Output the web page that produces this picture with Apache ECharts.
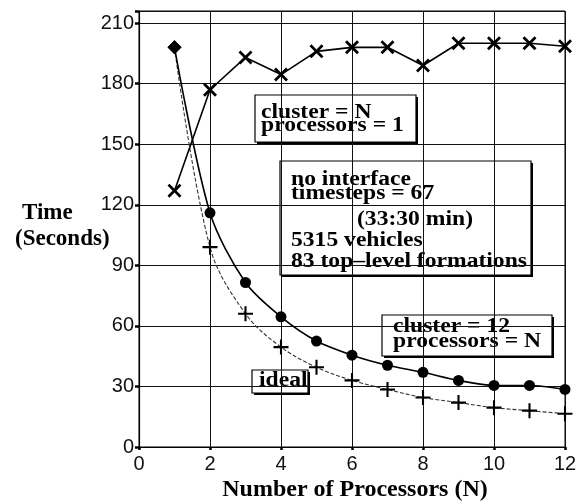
<!DOCTYPE html>
<html>
<head>
<meta charset="utf-8">
<script src="https://cdn.jsdelivr.net/npm/echarts@6/dist/echarts.min.js"></script>
<style>
html,body{margin:0;padding:0;background:#fff;}
#c{width:588px;height:504px;}
</style>
</head>
<body>
<div id="c"></div>
<script>
// Data
var processors = [1, 2, 3, 4, 5, 6, 7, 8, 9, 10, 11, 12];
var clusterN = [127, 177, 193, 184.5, 196, 198, 198, 189, 200, 200, 200, 198.5];     // cluster = N, processors = 1
var cluster12 = [198, 116, 81.5, 64.5, 52.5, 45.5, 40.5, 37, 33, 30.5, 30.5, 28.5];   // cluster = 12, processors = N
var ideal = [198, 99, 66, 49.5, 39.5, 33, 28.5, 24.5, 22, 19.5, 18, 16.5];            // ideal
var xTicks = [0, 2, 4, 6, 8, 10, 12];
var yTicks = [0, 30, 60, 90, 120, 150, 180, 210];

var serif = '"Liberation Serif", "Times New Roman", serif';
var sans = '"Liberation Sans", Arial, sans-serif';
var FS = 20;
var SX = 1.18;

function pairs(vals) {
  return processors.map(function (p, i) { return [p, vals[i]]; });
}
function withFirstDiamond(vals) {
  return processors.map(function (p, i) {
    if (i === 0) return { value: [p, vals[i]], symbol: 'diamond', symbolSize: 14 };
    return [p, vals[i]];
  });
}

var crossPath = 'path://M0,1.4L1.4,0L5,3.6L8.6,0L10,1.4L6.4,5L10,8.6L8.6,10L5,6.4L1.4,10L0,8.6L3.6,5Z';
var plusPath = 'path://M4.3,0H5.7V4.3H10V5.7H5.7V10H4.3V5.7H0V4.3H4.3Z';

function box(x, y, w, h, lines) {
  var children = [
    { type: 'rect', shape: { x: x + 2, y: y + 2, width: w, height: h }, style: { fill: '#000' } },
    { type: 'rect', shape: { x: x, y: y, width: w, height: h }, style: { fill: '#fff', stroke: '#000', lineWidth: 1.2 } }
  ];
  lines.forEach(function (l) {
    children.push({
      type: 'text',
      x: l[1], y: l[2] - 0.3375 * FS, scaleX: SX, scaleY: 1,
      style: { text: l[0], font: 'bold ' + FS + 'px ' + serif, fill: '#000', verticalAlign: 'middle', align: 'left' }
    });
  });
  return { type: 'group', z: 100, children: children };
}

var chart = echarts.init(document.getElementById('c'), null, { renderer: 'canvas' });
chart.setOption({
  backgroundColor: '#fff',
  animation: false,
  grid: { left: 139, right: 23, top: 11, bottom: 57, show: true, borderColor: '#000', borderWidth: 1,
          containLabel: false, outerBoundsMode: 'none' },
  xAxis: {
    type: 'value', min: 0, max: 12, interval: 2,
    name: 'Number of Processors (N)', nameLocation: 'middle', nameGap: 43, nameMoveOverlap: false,
    nameTextStyle: { fontFamily: serif, fontWeight: 'bold', fontSize: 24, color: '#000', verticalAlign: 'middle', padding: [0, 0, 0, 6] },
    axisLine: { show: true, lineStyle: { color: '#000', width: 1.2 } },
    axisTick: { show: true, inside: false, length: 3, lineStyle: { color: '#000', width: 2.5 } },
    axisLabel: { fontFamily: sans, fontSize: 20, color: '#111', margin: 7,
      formatter: function (v) { return xTicks.indexOf(v) >= 0 ? String(v) : ''; } },
    splitLine: { show: true, lineStyle: { color: '#111', width: 1 } }
  },
  yAxis: {
    type: 'value', min: 0, max: 216, interval: 30,
    name: '{t|Time}\n{s|(Seconds)}', nameLocation: 'middle', nameRotate: 0, nameGap: 124, nameMoveOverlap: false,
    nameTextStyle: {
      align: 'left', verticalAlign: 'middle', padding: [0, 0, 6, 0],
      rich: {
        t: { fontFamily: serif, fontWeight: 'bold', fontSize: 23, color: '#000', lineHeight: 26, padding: [0, 0, 0, 7] },
        s: { fontFamily: serif, fontWeight: 'bold', fontSize: 23, color: '#000', lineHeight: 26 }
      }
    },
    axisLine: { show: true, lineStyle: { color: '#000', width: 1.2 } },
    axisTick: { show: true, length: 4, lineStyle: { color: '#000', width: 2.5 } },
    axisLabel: { fontFamily: sans, fontSize: 20, color: '#111', margin: 5,
      formatter: function (v) { return yTicks.indexOf(v) >= 0 ? String(v) : ''; } },
    splitLine: { show: true, lineStyle: { color: '#111', width: 1 } }
  },
  series: [
    {
      name: 'cluster = N, processors = 1', type: 'line', data: pairs(clusterN),
      symbol: crossPath, symbolSize: 14, showAllSymbol: true,
      lineStyle: { color: '#000', width: 1.6 },
      itemStyle: { color: '#000', borderWidth: 0 }, z: 5
    },
    {
      name: 'ideal', type: 'line', data: withFirstDiamond(ideal), smooth: 0.35,
      symbol: plusPath, symbolSize: 15, showAllSymbol: true,
      lineStyle: { color: '#333', width: 1.1, type: [4, 2] },
      itemStyle: { color: '#000', borderWidth: 0 }, z: 4
    },
    {
      name: 'cluster = 12, processors = N', type: 'line', data: withFirstDiamond(cluster12), smooth: 0.3,
      symbol: 'circle', symbolSize: 11, showAllSymbol: true,
      lineStyle: { color: '#000', width: 1.6 },
      itemStyle: { color: '#000', borderWidth: 0 }, z: 6
    }
  ],
  graphic: [
    box(255, 95, 161, 47, [['cluster = N', 261, 120], ['processors = 1', 261, 133]]),
    box(280, 161, 251, 114, [
      ['no interface', 291, 187], ['timesteps = 67', 291, 201], ['(33:30 min)', 357, 227],
      ['5315 vehicles', 291, 248], ['83 top\u2013level formations', 291, 269]
    ]),
    box(382, 315, 170, 41, [['cluster = 12', 393, 334], ['processors = N', 393, 349]]),
    box(252, 370, 56, 23, [['ideal', 259, 388]])
  ]
});
</script>
</body>
</html>
